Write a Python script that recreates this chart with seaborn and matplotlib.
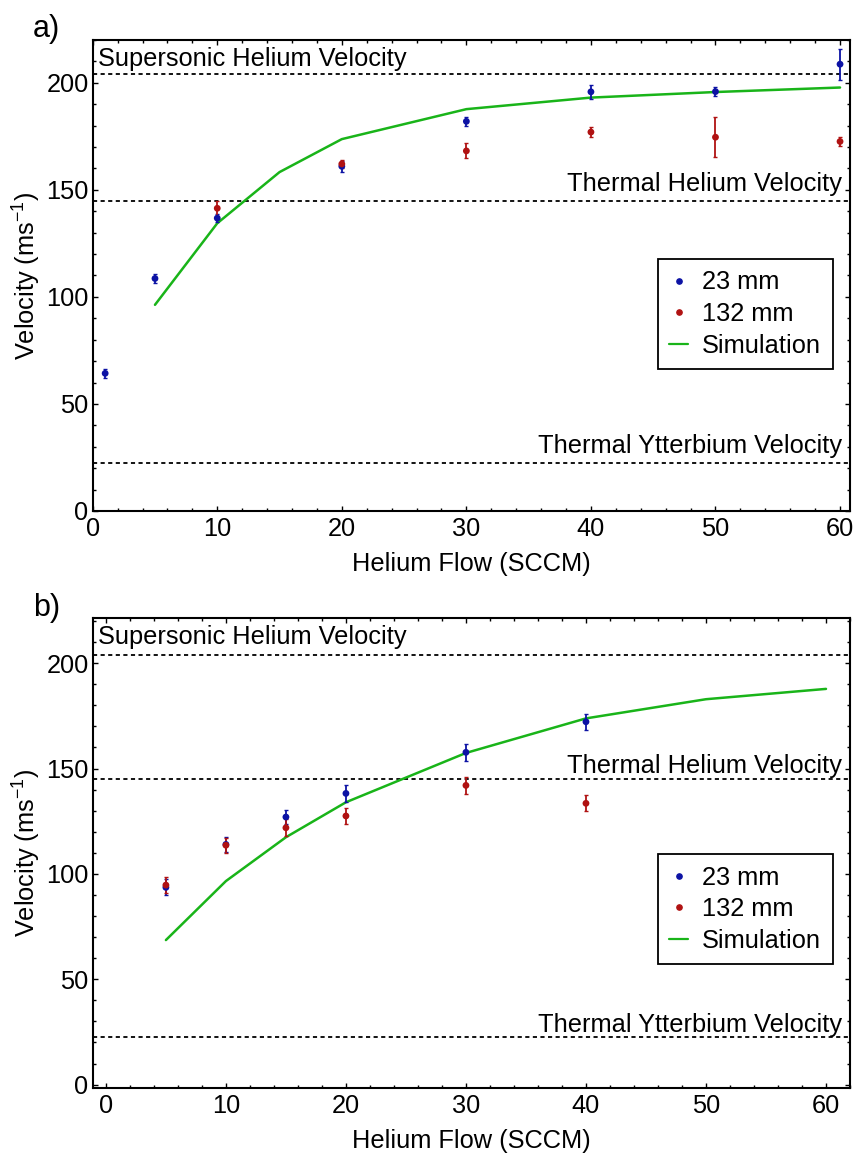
import numpy as np
import pandas as pd
import matplotlib
matplotlib.use("Agg")
import matplotlib.pyplot as plt
from matplotlib.lines import Line2D
from matplotlib.ticker import MultipleLocator
import seaborn as sns

# ---------------- data ----------------
# panel a
flow_a_23 = [1, 5, 10, 20, 30, 40, 50, 60]
vel_a_23 = [64.3, 108.6, 136.8, 161.0, 182.0, 195.8, 195.9, 208.7]
err_a_23 = [2.0, 2.0, 2.0, 2.5, 2.2, 3.3, 2.0, 7.2]

flow_a_132 = [10, 20, 30, 40, 50, 60]
vel_a_132 = [141.4, 162.1, 168.2, 177.0, 174.6, 172.6]
err_a_132 = [3.6, 2.0, 3.5, 2.3, 9.4, 2.3]

flow_a_sim = [5, 10, 15, 20, 30, 40, 50, 60]
vel_a_sim = [96.3, 134.4, 158.3, 173.7, 187.7, 193.1, 195.7, 197.8]

# panel b
flow_b_23 = [5, 10, 15, 20, 30, 40]
vel_b_23 = [93.6, 114.0, 127.0, 138.2, 157.7, 172.2]
err_b_23 = [3.8, 3.5, 3.5, 3.9, 3.9, 3.8]

flow_b_132 = [5, 10, 15, 20, 30, 40]
vel_b_132 = [94.7, 113.6, 121.9, 127.5, 142.0, 133.5]
err_b_132 = [3.8, 3.5, 4.0, 3.9, 3.9, 3.8]

flow_b_sim = [5, 10, 15, 20, 30, 40, 50, 60]
vel_b_sim = [68.6, 96.6, 117.4, 134.0, 157.4, 173.8, 182.9, 187.8]

# reference velocities
ref_names = ["Supersonic Helium Velocity", "Thermal Helium Velocity",
             "Thermal Ytterbium Velocity"]
ref_values = [204.0, 145.0, 22.5]

series_labels = ["23 mm", "132 mm", "Simulation"]
panel_labels = ["a)", "b)"]
x_label = "Helium Flow (SCCM)"
y_label = "Velocity (ms$^{-1}$)"

# ---------------- style ----------------
sns.set_style("ticks")
plt.rcParams["font.family"] = ["Liberation Sans", "DejaVu Sans"]
plt.rcParams["mathtext.fontset"] = "custom"
plt.rcParams["mathtext.rm"] = "Liberation Sans"
plt.rcParams["mathtext.it"] = "Liberation Sans:italic"
plt.rcParams["mathtext.bf"] = "Liberation Sans:bold"
for k in ["text.color", "axes.labelcolor", "xtick.color", "ytick.color",
          "axes.edgecolor"]:
    plt.rcParams[k] = "black"

BLUE = "#0c12a4"
RED = "#b01212"
GREEN = "#19b419"
FS = 18.3

W, H = 857, 1156
fig = plt.figure(figsize=(W / 100, H / 100), dpi=100)
ax_a = fig.add_axes([92.7 / W, 1 - 511 / H, (850 - 92.7) / W, (511 - 40) / H])
ax_b = fig.add_axes([92.7 / W, 1 - 1088 / H, (850 - 92.7) / W, (1088 - 618.3) / H])


def draw_panel(ax, f23, v23, e23, f132, v132, e132, fsim, vsim,
               xlim, ylim, text_base, leg_anchor):
    # simulation line
    sns.lineplot(x=fsim, y=vsim, ax=ax, color=GREEN, lw=1.8, zorder=3,
                 legend=False)
    # data with error bars
    for f, v, e, c in [(f23, v23, e23, BLUE), (f132, v132, e132, RED)]:
        ax.errorbar(f, v, yerr=e, fmt="none", ecolor=c, elinewidth=1.3,
                    capsize=1.6, capthick=1.0, zorder=4)
        sns.scatterplot(x=f, y=v, ax=ax, color=c, s=24, edgecolor="none",
                        zorder=5, legend=False)

    # reference lines
    for val in ref_values:
        ax.axhline(val, color="black", lw=1.3, ls=(0, (2.3, 1.9)), zorder=2)

    trans = matplotlib.transforms.blended_transform_factory(ax.transAxes,
                                                            ax.transData)
    ax.text(0.007, text_base[0], ref_names[0], transform=trans,
            ha="left", va="baseline", fontsize=FS)
    ax.text(0.989, text_base[1], ref_names[1], transform=trans,
            ha="right", va="baseline", fontsize=FS)
    ax.text(0.989, text_base[2], ref_names[2], transform=trans,
            ha="right", va="baseline", fontsize=FS)

    ax.set_xlim(*xlim)
    ax.set_ylim(*ylim)
    ax.xaxis.set_major_locator(MultipleLocator(10))
    ax.xaxis.set_minor_locator(MultipleLocator(2))
    ax.yaxis.set_major_locator(MultipleLocator(50))
    ax.yaxis.set_minor_locator(MultipleLocator(10))
    ax.tick_params(which="both", direction="in", top=True, right=True,
                   labelsize=FS, width=1.0, color="black")
    ax.tick_params(axis="x", pad=4)
    ax.tick_params(axis="y", pad=3)
    ax.tick_params(which="major", length=3.5)
    ax.tick_params(which="minor", length=2.0)
    for s in ax.spines.values():
        s.set_linewidth(1.5)
        s.set_color("black")
        s.set_visible(True)

    ax.set_xlabel(x_label, fontsize=FS, labelpad=8)
    ax.set_ylabel(y_label, fontsize=FS, labelpad=2)

    handles = [
        Line2D([], [], marker="o", ls="none", color=BLUE, markersize=3.8,
               label=series_labels[0]),
        Line2D([], [], marker="o", ls="none", color=RED, markersize=3.8,
               label=series_labels[1]),
        Line2D([], [], color=GREEN, lw=1.6, label=series_labels[2]),
    ]
    leg = ax.legend(handles=handles, loc="upper right",
                    bbox_to_anchor=leg_anchor, borderaxespad=0,
                    frameon=True, fancybox=False, framealpha=1,
                    edgecolor="black", fontsize=FS, handlelength=0.75,
                    handletextpad=0.55, labelspacing=0.3, borderpad=0.45)
    leg.get_frame().set_linewidth(1.3)


draw_panel(ax_a, flow_a_23, vel_a_23, err_a_23, flow_a_132, vel_a_132,
           err_a_132, flow_a_sim, vel_a_sim,
           xlim=(0, 60.8), ylim=(0, 220),
           text_base=(207.7, 149.5, 27.0), leg_anchor=(0.977, 0.535))
draw_panel(ax_b, flow_b_23, vel_b_23, err_b_23, flow_b_132, vel_b_132,
           err_b_132, flow_b_sim, vel_b_sim,
           xlim=(-1.1, 62.0), ylim=(-1.6, 221.3),
           text_base=(209.0, 147.7, 25.1), leg_anchor=(0.977, 0.4976))

fig.text(33 / W, 1 - 37 / H, panel_labels[0], fontsize=22, ha="left",
         va="baseline")
fig.text(33 / W, 1 - 616 / H, panel_labels[1], fontsize=22, ha="left",
         va="baseline")

fig.savefig("out.png", dpi=100)
